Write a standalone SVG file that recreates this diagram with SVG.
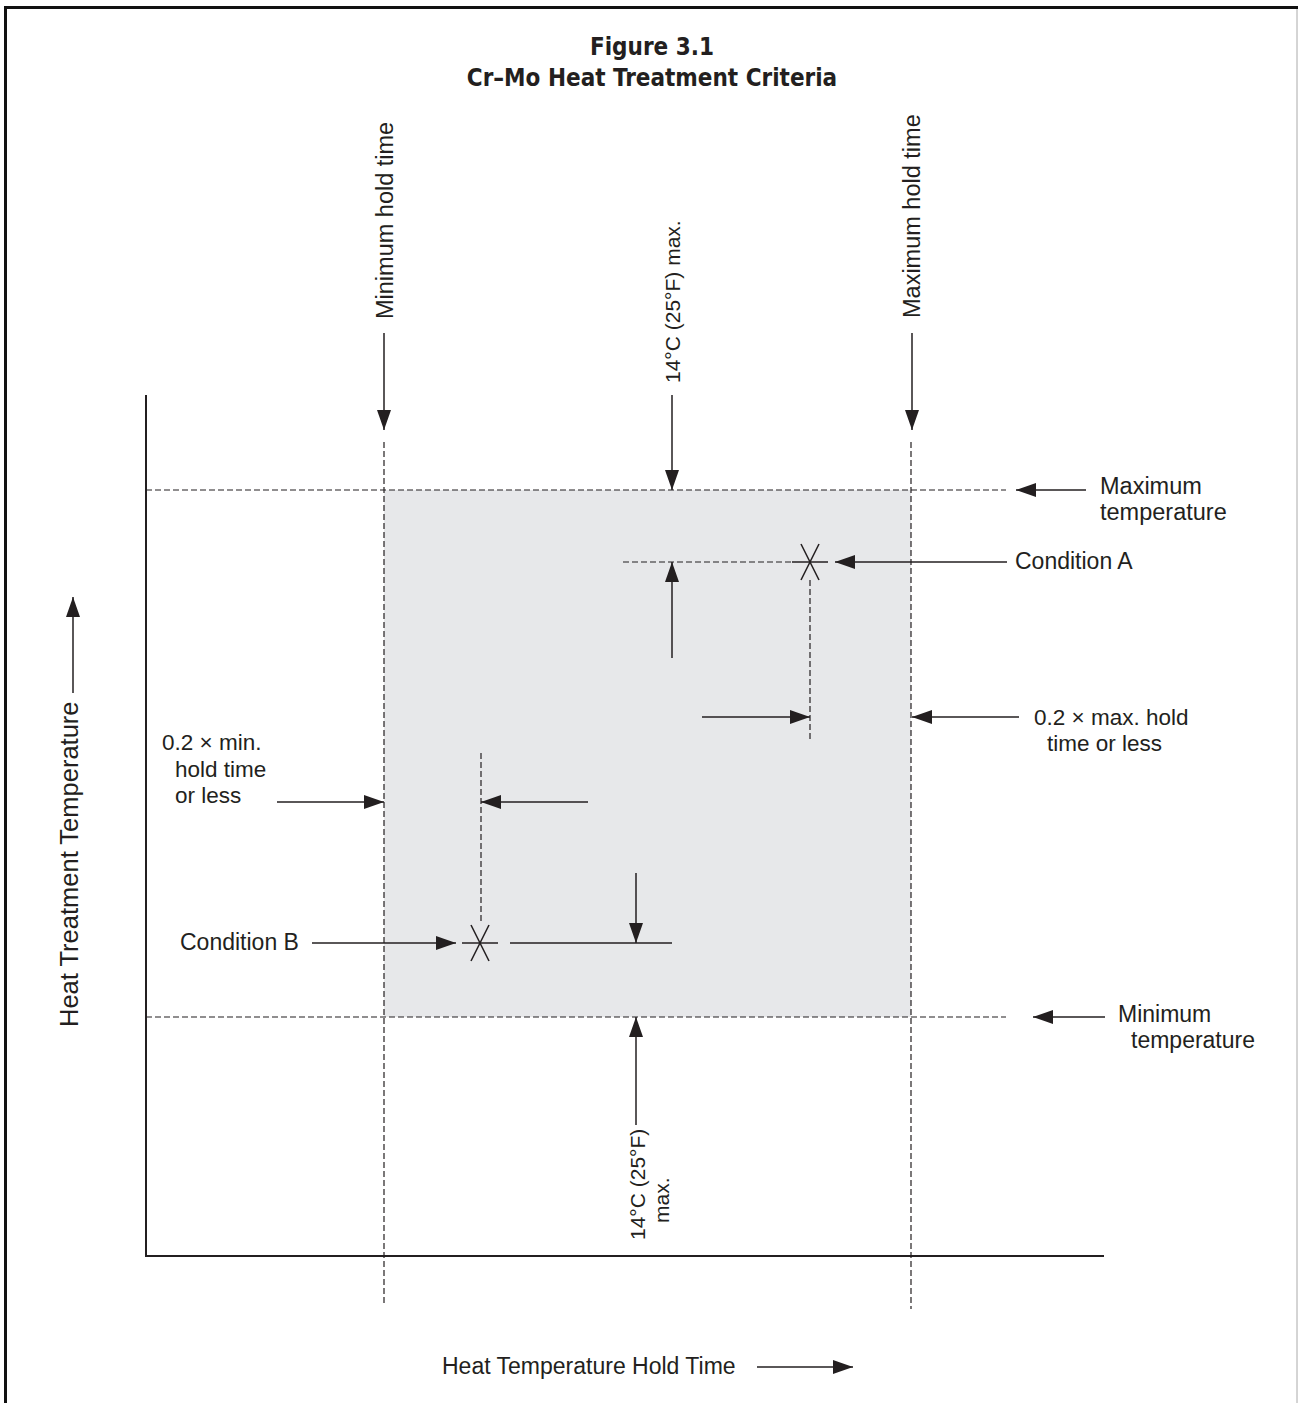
<svg xmlns="http://www.w3.org/2000/svg" width="1298" height="1403" viewBox="0 0 1298 1403">
<style>
.t{font-family:"Liberation Sans",Arial,sans-serif;font-size:23px;fill:#231f20}
.title{font-family:"Liberation Sans Narrow","DejaVu Sans Condensed","Liberation Sans",sans-serif;font-weight:bold;font-size:24px;fill:#231f20;text-anchor:middle}
.ln{stroke:#231f20;stroke-width:1.5;fill:none}
.ax{stroke:#231f20;stroke-width:2;fill:none}
.dash{stroke:#231f20;stroke-width:1.2;stroke-dasharray:6 3;fill:none}
.arr{stroke:#231f20;stroke-width:1.5;fill:none;marker-end:url(#ah)}
</style>
<defs>
<marker id="ah" markerUnits="userSpaceOnUse" markerWidth="20" markerHeight="14" refX="20" refY="7" orient="auto">
<path d="M0,0 L20,7 L0,14 Z" fill="#231f20"/>
</marker>
</defs>
<rect x="0" y="0" width="1298" height="1403" fill="#fff"/>
<g id="frame">
<line x1="4" y1="7.5" x2="1298" y2="7.5" stroke="#111" stroke-width="3"/>
<line x1="5.5" y1="6" x2="5.5" y2="1403" stroke="#111" stroke-width="3"/>
<line x1="1297" y1="9" x2="1297" y2="1403" stroke="#aaa" stroke-width="1"/>
</g>
<g id="title">
<text class="title" x="652" y="55">Figure 3.1</text>
<text class="title" x="652" y="86">Cr–Mo Heat Treatment Criteria</text>
</g>
<g id="zone"><rect x="384" y="490" width="527" height="527" fill="#e7e8ea"/></g>
<g id="axes">
<line class="ax" x1="146" y1="395" x2="146" y2="1257"/>
<line class="ax" x1="145" y1="1256" x2="1104" y2="1256"/>
</g>
<g id="connectors">
<line class="dash" x1="384" y1="442" x2="384" y2="1303"/>
<line class="dash" x1="911" y1="442" x2="911" y2="1309"/>
<line class="dash" x1="146" y1="490" x2="1006" y2="490"/>
<line class="dash" x1="146" y1="1017" x2="1006" y2="1017"/>
<line class="arr" x1="384" y1="333" x2="384" y2="430"/>
<line class="arr" x1="912" y1="333" x2="912" y2="430"/>
<line class="arr" x1="672" y1="395" x2="672" y2="490"/>
<line class="arr" x1="1086" y1="490" x2="1016" y2="490"/>
<line class="arr" x1="1105" y1="1017" x2="1033" y2="1017"/>
<line class="arr" x1="636" y1="1125" x2="636" y2="1017"/>
<line class="dash" x1="623" y1="562" x2="792" y2="562"/>
<line class="ln" x1="792" y1="562" x2="828" y2="562"/>
<line class="arr" x1="1007" y1="562" x2="835" y2="562"/>
<line class="arr" x1="672" y1="658" x2="672" y2="562"/>
<line class="dash" x1="810" y1="580" x2="810" y2="742"/>
<line class="arr" x1="702" y1="717" x2="810" y2="717"/>
<line class="arr" x1="1019" y1="717" x2="912" y2="717"/>
<line class="arr" x1="277" y1="802" x2="384" y2="802"/>
<line class="arr" x1="588" y1="802" x2="481" y2="802"/>
<line class="dash" x1="481" y1="753" x2="481" y2="922"/>
<line class="arr" x1="312" y1="943" x2="456" y2="943"/>
<line class="ln" x1="462" y1="943" x2="498" y2="943"/>
<line class="ln" x1="510" y1="943" x2="672" y2="943"/>
<line class="arr" x1="636" y1="873" x2="636" y2="943"/>
<line class="arr" x1="73" y1="693" x2="73" y2="597"/>
<line class="arr" x1="757" y1="1367" x2="853" y2="1367"/>
</g>
<g id="condition-a-mark">
<line class="ln" x1="801" y1="544" x2="819" y2="580"/>
<line class="ln" x1="819" y1="544" x2="801" y2="580"/>
</g>
<g id="condition-b-mark">
<line class="ln" x1="471" y1="925" x2="489" y2="961"/>
<line class="ln" x1="489" y1="925" x2="471" y2="961"/>
</g>
<g id="label-min-hold"><text class="t" style="font-size:23.5px" transform="translate(393,319) rotate(-90)">Minimum hold time</text></g>
<g id="label-max-hold"><text class="t" style="font-size:23.5px" transform="translate(920,318) rotate(-90)">Maximum hold time</text></g>
<g id="label-14c-top"><text class="t" style="font-size:21px" transform="translate(680,383) rotate(-90)">14°C (25°F) max.</text></g>
<g id="label-max-temp"><text class="t" style="font-size:23.5px"><tspan x="1100" y="494">Maximum</tspan><tspan x="1100" y="520">temperature</tspan></text></g>
<g id="label-min-temp"><text class="t"><tspan x="1118" y="1022">Minimum</tspan><tspan x="1131" y="1048">temperature</tspan></text></g>
<g id="label-cond-a"><text class="t" x="1015" y="569">Condition A</text></g>
<g id="label-cond-b"><text class="t" x="180" y="950">Condition B</text></g>
<g id="label-max-frac"><text class="t" style="font-size:22.5px"><tspan x="1034" y="725">0.2 × max. hold</tspan><tspan x="1047" y="751">time or less</tspan></text></g>
<g id="label-min-frac"><text class="t" style="font-size:22.5px"><tspan x="162" y="750">0.2 × min.</tspan><tspan x="175" y="777">hold time</tspan><tspan x="175" y="803">or less</tspan></text></g>
<g id="label-14c-bottom"><text class="t" style="font-size:21px" transform="translate(645,1240) rotate(-90)"><tspan x="0" y="0">14°C (25°F)</tspan><tspan x="17" y="24">max.</tspan></text></g>
<g id="label-y-axis"><text class="t" style="font-size:25.5px" transform="translate(78,1027) rotate(-90)">Heat Treatment Temperature</text></g>
<g id="label-x-axis"><text class="t" x="442" y="1374">Heat Temperature Hold Time</text></g>
</svg>
